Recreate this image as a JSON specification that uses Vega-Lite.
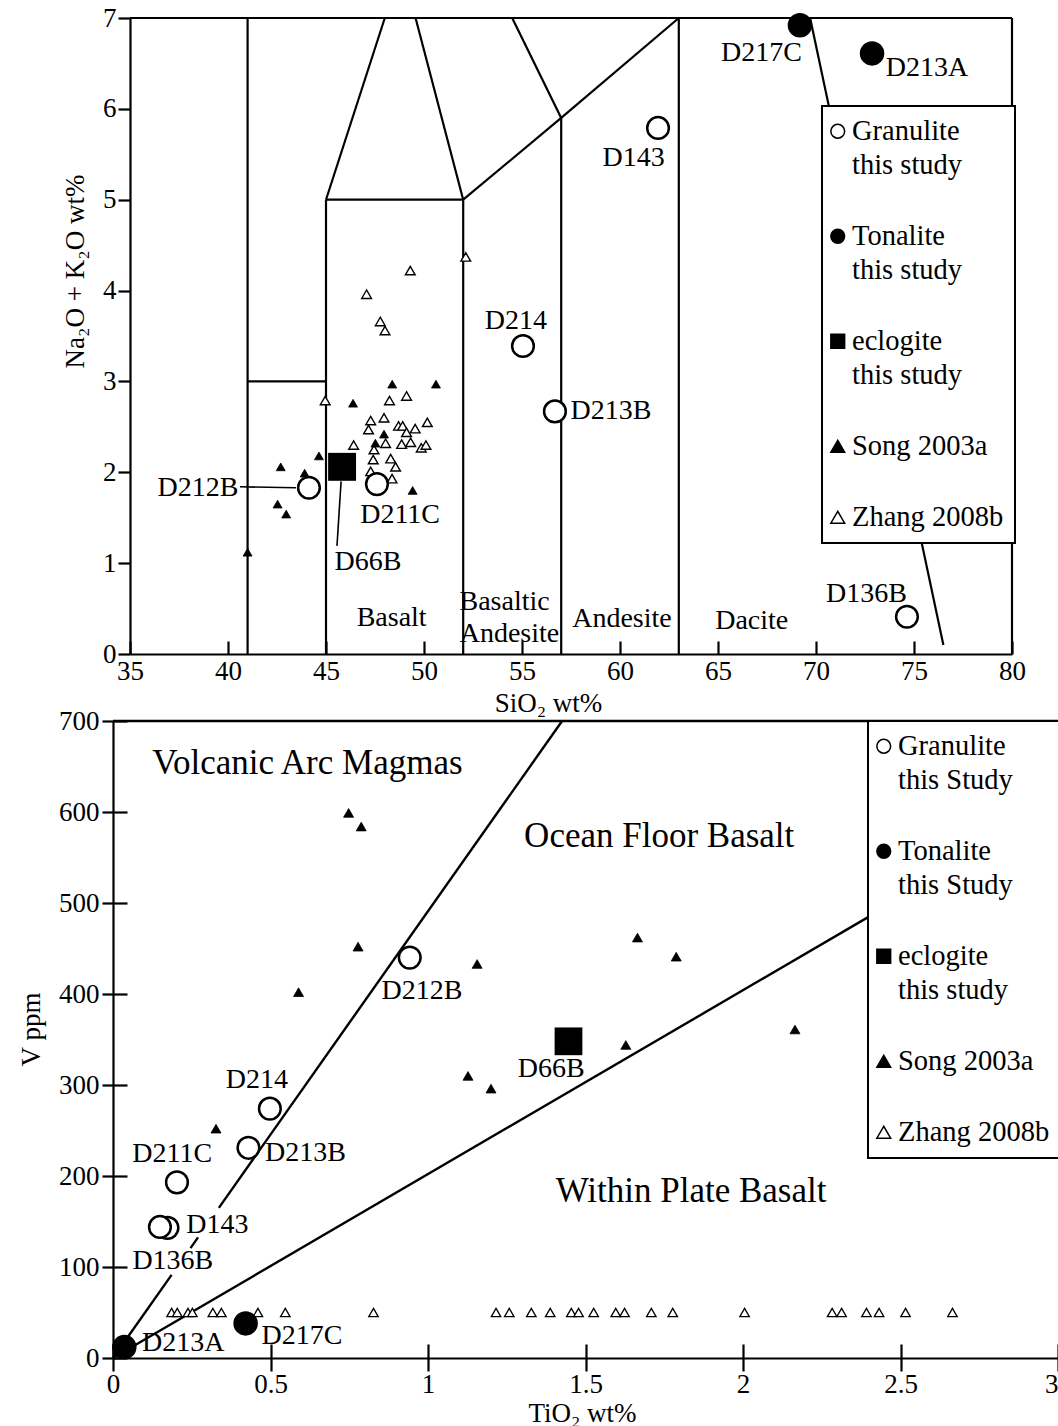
{
  "$schema": "https://vega.github.io/schema/vega-lite/v6.json",
  "background": "white",
  "padding": {"left": 17, "top": 4, "right": 0, "bottom": 0},
  "bounds": "flush",
  "spacing": 67,
  "config": {
    "view": {"stroke": null},
    "font": "Liberation Serif",
    "style": {"guide-label": {"lineHeight": 34, "dy": 9}},
    "axis": {
      "domainColor": "black", "domainWidth": 2.2,
      "tickColor": "black", "tickWidth": 2.2,
      "labelColor": "black", "labelFont": "Liberation Serif", "labelFontSize": 27,
      "titleColor": "black", "titleFont": "Liberation Serif", "titleFontSize": 27, "titleFontWeight": "normal",
      "grid": false, "labelFlush": false, "labelOverlap": false, "labelBound": false
    },
    "legend": {
      "labelFont": "Liberation Serif", "labelFontSize": 28.5, "labelColor": "black", "labelLimit": 400,
      "labelOffset": 0, "symbolOffset": -9.5, "labelBaseline": "alphabetic",
      "symbolSize": 190,
      "padding": 11, "rowPadding": 42, "fillColor": "white", "strokeColor": "black", "strokeWidth": 2
    },
    "text": {"font": "Liberation Serif", "color": "black"}
  },
  "datasets": {
    "tasLines": [
      {"sio2": 41, "alk": 0, "sio2End": 41, "alkEnd": 7},
      {"sio2": 41, "alk": 3, "sio2End": 45, "alkEnd": 3},
      {"sio2": 45, "alk": 0, "sio2End": 45, "alkEnd": 5},
      {"sio2": 45, "alk": 5, "sio2End": 52, "alkEnd": 5},
      {"sio2": 45, "alk": 5, "sio2End": 48.0, "alkEnd": 7},
      {"sio2": 52, "alk": 0, "sio2End": 52, "alkEnd": 5},
      {"sio2": 52, "alk": 5, "sio2End": 49.57, "alkEnd": 7},
      {"sio2": 52, "alk": 5, "sio2End": 57, "alkEnd": 5.9},
      {"sio2": 57, "alk": 5.9, "sio2End": 63, "alkEnd": 7},
      {"sio2": 57, "alk": 0, "sio2End": 57, "alkEnd": 5.9},
      {"sio2": 57, "alk": 5.9, "sio2End": 54.5, "alkEnd": 7},
      {"sio2": 63, "alk": 0, "sio2End": 63, "alkEnd": 7},
      {"sio2": 69.7, "alk": 7, "sio2End": 76.5, "alkEnd": 0.1},
      {"sio2": 35, "alk": 7, "sio2End": 80, "alkEnd": 7},
      {"sio2": 80, "alk": 7, "sio2End": 80, "alkEnd": 0}
    ],
    "tasLeaders": [
      {"sio2": 40.61, "alk": 1.84, "sio2End": 43.47, "alkEnd": 1.83},
      {"sio2": 45.77, "alk": 1.90, "sio2End": 45.56, "alkEnd": 1.19}
    ],
    "tasFields": [
      {"name": "Basalt", "sio2": 48.35, "alk": 0.40},
      {"name": "Basaltic", "sio2": 54.11, "alk": 0.57},
      {"name": "Andesite", "sio2": 54.36, "alk": 0.22},
      {"name": "Andesite", "sio2": 60.1, "alk": 0.385},
      {"name": "Dacite", "sio2": 66.72, "alk": 0.36}
    ],
    "tasNames": [
      {"name": "D217C", "sio2": 67.22, "alk": 6.62},
      {"name": "D213A", "sio2": 75.66, "alk": 6.45},
      {"name": "D143", "sio2": 60.69, "alk": 5.46},
      {"name": "D214", "sio2": 54.69, "alk": 3.66},
      {"name": "D213B", "sio2": 59.54, "alk": 2.67},
      {"name": "D212B", "sio2": 38.47, "alk": 1.83},
      {"name": "D211C", "sio2": 48.78, "alk": 1.53},
      {"name": "D66B", "sio2": 47.14, "alk": 1.01},
      {"name": "D136B", "sio2": 72.57, "alk": 0.66}
    ],
    "tas": [
      {"grp": "Song 2003a", "sio2": 41.0, "alk": 1.12},
      {"grp": "Song 2003a", "sio2": 42.53, "alk": 1.65},
      {"grp": "Song 2003a", "sio2": 42.97, "alk": 1.54},
      {"grp": "Song 2003a", "sio2": 42.69, "alk": 2.06},
      {"grp": "Song 2003a", "sio2": 43.91, "alk": 1.99},
      {"grp": "Song 2003a", "sio2": 44.64, "alk": 2.18},
      {"grp": "Song 2003a", "sio2": 46.38, "alk": 2.76},
      {"grp": "Song 2003a", "sio2": 47.52, "alk": 2.32},
      {"grp": "Song 2003a", "sio2": 47.96, "alk": 2.42},
      {"grp": "Song 2003a", "sio2": 48.38, "alk": 2.97},
      {"grp": "Song 2003a", "sio2": 49.42, "alk": 1.80},
      {"grp": "Song 2003a", "sio2": 50.61, "alk": 2.97},
      {"grp": "Zhang 2008b", "sio2": 52.13, "alk": 4.37},
      {"grp": "Zhang 2008b", "sio2": 49.30, "alk": 4.22},
      {"grp": "Zhang 2008b", "sio2": 47.07, "alk": 3.96},
      {"grp": "Zhang 2008b", "sio2": 47.77, "alk": 3.66},
      {"grp": "Zhang 2008b", "sio2": 48.01, "alk": 3.56},
      {"grp": "Zhang 2008b", "sio2": 44.96, "alk": 2.79},
      {"grp": "Zhang 2008b", "sio2": 48.24, "alk": 2.79},
      {"grp": "Zhang 2008b", "sio2": 49.11, "alk": 2.84},
      {"grp": "Zhang 2008b", "sio2": 47.28, "alk": 2.57},
      {"grp": "Zhang 2008b", "sio2": 47.96, "alk": 2.60},
      {"grp": "Zhang 2008b", "sio2": 50.17, "alk": 2.55},
      {"grp": "Zhang 2008b", "sio2": 47.17, "alk": 2.47},
      {"grp": "Zhang 2008b", "sio2": 48.70, "alk": 2.51},
      {"grp": "Zhang 2008b", "sio2": 48.91, "alk": 2.51},
      {"grp": "Zhang 2008b", "sio2": 49.11, "alk": 2.44},
      {"grp": "Zhang 2008b", "sio2": 49.55, "alk": 2.48},
      {"grp": "Zhang 2008b", "sio2": 48.04, "alk": 2.32},
      {"grp": "Zhang 2008b", "sio2": 48.86, "alk": 2.31},
      {"grp": "Zhang 2008b", "sio2": 49.32, "alk": 2.33},
      {"grp": "Zhang 2008b", "sio2": 49.86, "alk": 2.27},
      {"grp": "Zhang 2008b", "sio2": 50.10, "alk": 2.30},
      {"grp": "Zhang 2008b", "sio2": 46.41, "alk": 2.30},
      {"grp": "Zhang 2008b", "sio2": 47.45, "alk": 2.25},
      {"grp": "Zhang 2008b", "sio2": 47.41, "alk": 2.14},
      {"grp": "Zhang 2008b", "sio2": 48.30, "alk": 2.15},
      {"grp": "Zhang 2008b", "sio2": 48.55, "alk": 2.06},
      {"grp": "Zhang 2008b", "sio2": 47.28, "alk": 2.01},
      {"grp": "Zhang 2008b", "sio2": 48.37, "alk": 1.93},
      {"grp": "Granulite this study", "sio2": 44.13, "alk": 1.83},
      {"grp": "Granulite this study", "sio2": 47.60, "alk": 1.87},
      {"grp": "Granulite this study", "sio2": 55.05, "alk": 3.39},
      {"grp": "Granulite this study", "sio2": 56.68, "alk": 2.67},
      {"grp": "Granulite this study", "sio2": 61.94, "alk": 5.79},
      {"grp": "Granulite this study", "sio2": 74.64, "alk": 0.41},
      {"grp": "Tonalite this study", "sio2": 69.18, "alk": 6.92},
      {"grp": "Tonalite this study", "sio2": 72.86, "alk": 6.61},
      {"grp": "eclogite this study", "sio2": 45.82, "alk": 2.06}
    ],
    "tivLines": [
      {"tio2": 0, "v": 0, "tio2End": 0.186, "vEnd": 91.3},
      {"tio2": 0.246, "v": 120.8, "tio2End": 0.270, "vEnd": 132.6},
      {"tio2": 0.336, "v": 165, "tio2End": 1.4257, "vEnd": 700},
      {"tio2": 0, "v": 0, "tio2End": 2.40, "vEnd": 485},
      {"tio2": 0, "v": 700, "tio2End": 3, "vEnd": 700}
    ],
    "tivFields": [
      {"name": "Volcanic Arc Magmas", "tio2": 0.617, "v": 654},
      {"name": "Ocean Floor Basalt", "tio2": 1.734, "v": 574},
      {"name": "Within Plate Basalt", "tio2": 1.835, "v": 184}
    ],
    "tivNames": [
      {"name": "D212B", "tio2": 0.981, "v": 403},
      {"name": "D66B", "tio2": 1.391, "v": 318},
      {"name": "D214", "tio2": 0.457, "v": 305},
      {"name": "D213B", "tio2": 0.611, "v": 225},
      {"name": "D211C", "tio2": 0.188, "v": 224},
      {"name": "D143", "tio2": 0.331, "v": 146},
      {"name": "D136B", "tio2": 0.19, "v": 107},
      {"name": "D213A", "tio2": 0.223, "v": 16.5},
      {"name": "D217C", "tio2": 0.600, "v": 24}
    ],
    "tiv": [
      {"grp": "Song 2003a", "tio2": 0.748, "v": 599},
      {"grp": "Song 2003a", "tio2": 0.788, "v": 584},
      {"grp": "Song 2003a", "tio2": 0.778, "v": 452},
      {"grp": "Song 2003a", "tio2": 1.156, "v": 433},
      {"grp": "Song 2003a", "tio2": 0.589, "v": 402},
      {"grp": "Song 2003a", "tio2": 0.327, "v": 252},
      {"grp": "Song 2003a", "tio2": 1.127, "v": 310},
      {"grp": "Song 2003a", "tio2": 1.200, "v": 296},
      {"grp": "Song 2003a", "tio2": 1.665, "v": 462},
      {"grp": "Song 2003a", "tio2": 1.788, "v": 441},
      {"grp": "Song 2003a", "tio2": 1.628, "v": 344},
      {"grp": "Song 2003a", "tio2": 2.165, "v": 361},
      {"grp": "Zhang 2008b", "tio2": 0.186, "v": 50},
      {"grp": "Zhang 2008b", "tio2": 0.204, "v": 50},
      {"grp": "Zhang 2008b", "tio2": 0.238, "v": 50},
      {"grp": "Zhang 2008b", "tio2": 0.252, "v": 50},
      {"grp": "Zhang 2008b", "tio2": 0.317, "v": 50},
      {"grp": "Zhang 2008b", "tio2": 0.344, "v": 50},
      {"grp": "Zhang 2008b", "tio2": 0.460, "v": 50},
      {"grp": "Zhang 2008b", "tio2": 0.547, "v": 50},
      {"grp": "Zhang 2008b", "tio2": 0.827, "v": 50},
      {"grp": "Zhang 2008b", "tio2": 1.216, "v": 50},
      {"grp": "Zhang 2008b", "tio2": 1.258, "v": 50},
      {"grp": "Zhang 2008b", "tio2": 1.328, "v": 50},
      {"grp": "Zhang 2008b", "tio2": 1.388, "v": 50},
      {"grp": "Zhang 2008b", "tio2": 1.455, "v": 50},
      {"grp": "Zhang 2008b", "tio2": 1.478, "v": 50},
      {"grp": "Zhang 2008b", "tio2": 1.526, "v": 50},
      {"grp": "Zhang 2008b", "tio2": 1.596, "v": 50},
      {"grp": "Zhang 2008b", "tio2": 1.624, "v": 50},
      {"grp": "Zhang 2008b", "tio2": 1.709, "v": 50},
      {"grp": "Zhang 2008b", "tio2": 1.777, "v": 50},
      {"grp": "Zhang 2008b", "tio2": 2.005, "v": 50},
      {"grp": "Zhang 2008b", "tio2": 2.283, "v": 50},
      {"grp": "Zhang 2008b", "tio2": 2.313, "v": 50},
      {"grp": "Zhang 2008b", "tio2": 2.392, "v": 50},
      {"grp": "Zhang 2008b", "tio2": 2.432, "v": 50},
      {"grp": "Zhang 2008b", "tio2": 2.516, "v": 50},
      {"grp": "Zhang 2008b", "tio2": 2.665, "v": 50},
      {"grp": "Granulite this Study", "tio2": 0.942, "v": 440},
      {"grp": "Granulite this Study", "tio2": 0.498, "v": 274},
      {"grp": "Granulite this Study", "tio2": 0.430, "v": 231},
      {"grp": "Granulite this Study", "tio2": 0.203, "v": 193},
      {"grp": "Granulite this Study", "tio2": 0.173, "v": 143},
      {"grp": "Granulite this Study", "tio2": 0.149, "v": 144},
      {"grp": "Tonalite this Study", "tio2": 0.036, "v": 12},
      {"grp": "Tonalite this Study", "tio2": 0.421, "v": 38},
      {"grp": "eclogite this study", "tio2": 1.446, "v": 348}
    ]
  },
  "resolve": {
    "scale": {"x": "independent", "y": "independent", "shape": "independent", "fill": "independent"},
    "legend": {"shape": "independent", "fill": "independent"}
  },
  "vconcat": [
    {
      "width": 899,
      "height": 636,
      "resolve": {"axis": {"x": "independent", "y": "independent"}},
      "layer": [
        {
          "data": {"name": "tasLines"},
          "mark": {"type": "rule", "strokeWidth": 2.2, "color": "black"},
          "encoding": {
            "x": {"field": "sio2", "type": "quantitative",
              "scale": {"domain": [35, 80], "range": [17, 899], "nice": false, "zero": false},
              "axis": {"orient": "bottom", "values": [35, 40, 45, 50, 55, 60, 65, 70, 75, 80], "tickSize": -13, "labelPadding": 8,
                "title": "SiO₂ wt%", "titleX": 435, "titleY": 57, "titleAlign": "center", "titleBaseline": "alphabetic"}},
            "y": {"field": "alk", "type": "quantitative",
              "scale": {"domain": [0, 7], "nice": false, "zero": false},
              "axis": {"orient": "left", "values": [0, 1, 2, 3, 4, 5, 6, 7], "offset": -17, "tickSize": 12, "labelPadding": 2, "labelOffset": -9,
                "title": "Na₂O + K₂O wt%", "titleX": -55, "titleY": 253, "titleAngle": 270,
                "titleAlign": "center", "titleBaseline": "middle"}},
            "x2": {"field": "sio2End"},
            "y2": {"field": "alkEnd"}
          }
        },
        {
          "data": {"name": "tasLeaders"},
          "mark": {"type": "rule", "strokeWidth": 1.6, "color": "black"},
          "encoding": {
            "x": {"field": "sio2", "type": "quantitative", "axis": null},
            "y": {"field": "alk", "type": "quantitative", "axis": null},
            "x2": {"field": "sio2End"},
            "y2": {"field": "alkEnd"}
          }
        },
        {
          "data": {"name": "tasFields"},
          "mark": {"type": "text", "fontSize": 28, "align": "center", "baseline": "middle"},
          "encoding": {
            "x": {"field": "sio2", "type": "quantitative", "axis": null},
            "y": {"field": "alk", "type": "quantitative", "axis": null},
            "text": {"field": "name"}
          }
        },
        {
          "data": {"name": "tas"},
          "transform": [{"filter": "datum.grp === 'Zhang 2008b'"}],
          "mark": {"type": "point", "filled": true, "opacity": 1, "size": 95, "stroke": "black", "strokeWidth": 1.4},
          "encoding": {
            "x": {"field": "sio2", "type": "quantitative", "axis": null},
            "y": {"field": "alk", "type": "quantitative", "axis": null},
            "shape": {"field": "grp", "type": "nominal",
              "scale": {"domain": ["Granulite this study", "Tonalite this study", "eclogite this study", "Song 2003a", "Zhang 2008b"],
                "range": ["circle", "circle", "square", "triangle-up", "triangle-up"]},
              "legend": {"title": null, "orient": "none", "legendX": 709, "legendY": 88, "direction": "vertical",
                "labelExpr": "indexof(datum.label, ' this ') > 0 ? split(replace(datum.label, ' this ', '|this '), '|') : datum.label"}},
            "fill": {"field": "grp", "type": "nominal",
              "scale": {"domain": ["Granulite this study", "Tonalite this study", "eclogite this study", "Song 2003a", "Zhang 2008b"],
                "range": ["white", "black", "black", "black", "white"]},
              "legend": {"title": null, "orient": "none", "legendX": 709, "legendY": 88, "direction": "vertical",
                "labelExpr": "indexof(datum.label, ' this ') > 0 ? split(replace(datum.label, ' this ', '|this '), '|') : datum.label"}}
          }
        },
        {
          "data": {"name": "tas"},
          "transform": [{"filter": "datum.grp === 'Song 2003a'"}],
          "mark": {"type": "point", "filled": true, "opacity": 1, "size": 80, "stroke": "black", "strokeWidth": 0.8},
          "encoding": {
            "x": {"field": "sio2", "type": "quantitative", "axis": null},
            "y": {"field": "alk", "type": "quantitative", "axis": null},
            "shape": {"field": "grp", "type": "nominal"},
            "fill": {"field": "grp", "type": "nominal"}
          }
        },
        {
          "data": {"name": "tas"},
          "transform": [{"filter": "indexof(datum.grp, 'Granulite') === 0"}],
          "mark": {"type": "point", "filled": true, "opacity": 1, "size": 470, "stroke": "black", "strokeWidth": 2.5},
          "encoding": {
            "x": {"field": "sio2", "type": "quantitative", "axis": null},
            "y": {"field": "alk", "type": "quantitative", "axis": null},
            "shape": {"field": "grp", "type": "nominal"},
            "fill": {"field": "grp", "type": "nominal"}
          }
        },
        {
          "data": {"name": "tas"},
          "transform": [{"filter": "indexof(datum.grp, 'Tonalite') === 0"}],
          "mark": {"type": "point", "filled": true, "opacity": 1, "size": 600, "strokeWidth": 0},
          "encoding": {
            "x": {"field": "sio2", "type": "quantitative", "axis": null},
            "y": {"field": "alk", "type": "quantitative", "axis": null},
            "shape": {"field": "grp", "type": "nominal"},
            "fill": {"field": "grp", "type": "nominal"}
          }
        },
        {
          "data": {"name": "tas"},
          "transform": [{"filter": "indexof(datum.grp, 'eclogite') === 0"}],
          "mark": {"type": "point", "filled": true, "opacity": 1, "size": 780, "strokeWidth": 0},
          "encoding": {
            "x": {"field": "sio2", "type": "quantitative", "axis": null},
            "y": {"field": "alk", "type": "quantitative", "axis": null},
            "shape": {"field": "grp", "type": "nominal"},
            "fill": {"field": "grp", "type": "nominal"}
          }
        },
        {
          "data": {"name": "tasNames"},
          "mark": {"type": "text", "fontSize": 28, "align": "center", "baseline": "middle"},
          "encoding": {
            "x": {"field": "sio2", "type": "quantitative", "axis": null},
            "y": {"field": "alk", "type": "quantitative", "axis": null},
            "text": {"field": "name"}
          }
        }
      ]
    },
    {
      "width": 945,
      "height": 637,
      "resolve": {"axis": {"x": "independent", "y": "independent"}},
      "layer": [
        {
          "data": {"name": "tivLines"},
          "mark": {"type": "rule", "strokeWidth": 2.4, "color": "black"},
          "encoding": {
            "x": {"field": "tio2", "type": "quantitative",
              "scale": {"domain": [0, 3], "nice": false, "zero": false},
              "axis": {"orient": "bottom", "values": [0, 0.5, 1, 1.5, 2, 2.5, 3], "format": ".1~f", "tickSize": 13, "labelPadding": -9,
                "labelAlign": {"condition": {"test": "datum.value === 3", "value": "right"}, "value": "center"},
                "title": "TiO₂ wt%", "titleX": 469, "titleY": 63, "titleAlign": "center", "titleBaseline": "alphabetic"}},
            "y": {"field": "v", "type": "quantitative",
              "scale": {"domain": [0, 700], "nice": false, "zero": false},
              "axis": {"orient": "left", "values": [0, 100, 200, 300, 400, 500, 600, 700], "tickSize": 11, "labelPadding": 3, "labelOffset": -9,
                "title": "V ppm", "titleX": -82, "titleY": 308, "titleAngle": 270, "titleAlign": "center", "titleBaseline": "middle"}},
            "x2": {"field": "tio2End"},
            "y2": {"field": "vEnd"}
          }
        },
        {
          "data": {"name": "tivFields"},
          "mark": {"type": "text", "fontSize": 35, "align": "center", "baseline": "middle"},
          "encoding": {
            "x": {"field": "tio2", "type": "quantitative",
              "axis": {"orient": "bottom", "values": [0, 0.5, 1, 1.5, 2, 2.5, 3], "tickSize": -14, "labels": false, "domain": false, "title": null}},
            "y": {"field": "v", "type": "quantitative",
              "axis": {"orient": "left", "values": [0, 100, 200, 300, 400, 500, 600, 700], "tickSize": -14, "labels": false, "domain": false, "title": null}},
            "text": {"field": "name"}
          }
        },
        {
          "data": {"name": "tiv"},
          "transform": [{"filter": "datum.grp === 'Zhang 2008b'"}],
          "mark": {"type": "point", "filled": true, "opacity": 1, "size": 90, "stroke": "black", "strokeWidth": 1.3},
          "encoding": {
            "x": {"field": "tio2", "type": "quantitative", "axis": null},
            "y": {"field": "v", "type": "quantitative", "axis": null},
            "shape": {"field": "grp", "type": "nominal",
              "scale": {"domain": ["Granulite this Study", "Tonalite this Study", "eclogite this study", "Song 2003a", "Zhang 2008b"],
                "range": ["circle", "circle", "square", "triangle-up", "triangle-up"]},
              "legend": {"title": null, "orient": "none", "legendX": 755, "legendY": 0, "direction": "vertical",
                "labelExpr": "indexof(datum.label, ' this ') > 0 ? split(replace(datum.label, ' this ', '|this '), '|') : datum.label"}},
            "fill": {"field": "grp", "type": "nominal",
              "scale": {"domain": ["Granulite this Study", "Tonalite this Study", "eclogite this study", "Song 2003a", "Zhang 2008b"],
                "range": ["white", "black", "black", "black", "white"]},
              "legend": {"title": null, "orient": "none", "legendX": 755, "legendY": 0, "direction": "vertical",
                "labelExpr": "indexof(datum.label, ' this ') > 0 ? split(replace(datum.label, ' this ', '|this '), '|') : datum.label"}}
          }
        },
        {
          "data": {"name": "tiv"},
          "transform": [{"filter": "datum.grp === 'Song 2003a'"}],
          "mark": {"type": "point", "filled": true, "opacity": 1, "size": 100, "stroke": "black", "strokeWidth": 0.8},
          "encoding": {
            "x": {"field": "tio2", "type": "quantitative", "axis": null},
            "y": {"field": "v", "type": "quantitative", "axis": null},
            "shape": {"field": "grp", "type": "nominal"},
            "fill": {"field": "grp", "type": "nominal"}
          }
        },
        {
          "data": {"name": "tiv"},
          "transform": [{"filter": "indexof(datum.grp, 'Granulite') === 0"}],
          "mark": {"type": "point", "filled": true, "opacity": 1, "size": 470, "stroke": "black", "strokeWidth": 2.5},
          "encoding": {
            "x": {"field": "tio2", "type": "quantitative", "axis": null},
            "y": {"field": "v", "type": "quantitative", "axis": null},
            "shape": {"field": "grp", "type": "nominal"},
            "fill": {"field": "grp", "type": "nominal"}
          }
        },
        {
          "data": {"name": "tiv"},
          "transform": [{"filter": "indexof(datum.grp, 'Tonalite') === 0"}],
          "mark": {"type": "point", "filled": true, "opacity": 1, "size": 600, "strokeWidth": 0},
          "encoding": {
            "x": {"field": "tio2", "type": "quantitative", "axis": null},
            "y": {"field": "v", "type": "quantitative", "axis": null},
            "shape": {"field": "grp", "type": "nominal"},
            "fill": {"field": "grp", "type": "nominal"}
          }
        },
        {
          "data": {"name": "tiv"},
          "transform": [{"filter": "indexof(datum.grp, 'eclogite') === 0"}],
          "mark": {"type": "point", "filled": true, "opacity": 1, "size": 770, "strokeWidth": 0},
          "encoding": {
            "x": {"field": "tio2", "type": "quantitative", "axis": null},
            "y": {"field": "v", "type": "quantitative", "axis": null},
            "shape": {"field": "grp", "type": "nominal"},
            "fill": {"field": "grp", "type": "nominal"}
          }
        },
        {
          "data": {"name": "tivNames"},
          "mark": {"type": "text", "fontSize": 28, "align": "center", "baseline": "middle"},
          "encoding": {
            "x": {"field": "tio2", "type": "quantitative", "axis": null},
            "y": {"field": "v", "type": "quantitative", "axis": null},
            "text": {"field": "name"}
          }
        }
      ]
    }
  ]
}
